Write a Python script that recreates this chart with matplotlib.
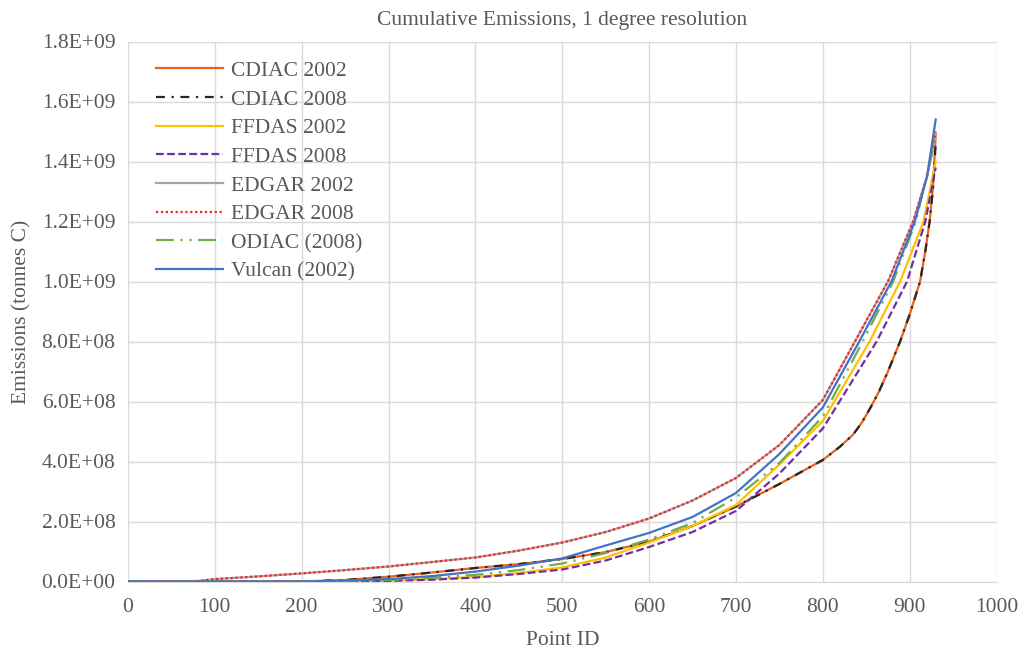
import numpy as np
import matplotlib.pyplot as plt
from matplotlib.ticker import FuncFormatter

# values, emissions in units of 1E8 tonnes C
x_cdiac = [0, 200, 250, 300, 350, 400, 450, 500, 550, 600, 650, 700, 750, 800, 820, 835, 845, 855, 865,
           875, 889, 900, 912, 918, 923, 927, 930]
cdiac02 = [0, 0, 0.05, 0.16, 0.3, 0.45, 0.58, 0.75, 0.98, 1.33, 1.85, 2.5, 3.25, 4.05, 4.5, 4.9, 5.3, 5.8, 6.35,
           7.0, 8.0, 8.9, 10.0, 11.0, 12.0, 13.2, 14.9]
cdiac08 = [0, 0, 0.05, 0.16, 0.3, 0.45, 0.58, 0.75, 0.98, 1.33, 1.85, 2.5, 3.25, 4.05, 4.5, 4.9, 5.3, 5.8, 6.35,
           7.0, 8.0, 8.9, 10.0, 11.0, 12.0, 13.1, 14.6]

x_ffdas02 = [0, 200, 250, 300, 350, 400, 450, 500, 550, 600, 650, 700, 750, 800, 854, 889, 916, 930]
ffdas02 = [0, 0, 0.01, 0.03, 0.08, 0.15, 0.28, 0.47, 0.8, 1.3, 1.85, 2.55, 3.9, 5.35, 8.0, 10.0, 12.0, 14.0]

x_ffdas08 = [0, 200, 250, 300, 350, 400, 450, 500, 550, 600, 650, 700, 750, 800, 862, 897, 918, 930]
ffdas08 = [0, 0, 0.01, 0.02, 0.06, 0.13, 0.25, 0.4, 0.7, 1.15, 1.65, 2.35, 3.6, 5.1, 8.0, 10.0, 12.0, 13.8]

x_edgar = [0, 75, 100, 150, 200, 250, 300, 350, 400, 450, 500, 550, 600, 650, 700, 750, 800, 837, 875, 904, 920, 930]
edgar02 = [0, 0, 0.08, 0.17, 0.27, 0.38, 0.5, 0.65, 0.8, 1.03, 1.3, 1.65, 2.1, 2.7, 3.45, 4.55, 6.05, 8.0, 10.0, 12.0, 13.5, 14.9]
edgar08 = [0, 0, 0.08, 0.17, 0.27, 0.38, 0.5, 0.65, 0.8, 1.03, 1.3, 1.65, 2.1, 2.7, 3.45, 4.55, 6.05, 8.0, 10.0, 12.0, 13.5, 15.0]

x_odiac = [0, 200, 250, 300, 350, 400, 450, 500, 550, 600, 650, 700, 750, 800, 846, 881, 907, 930]
odiac08 = [0, 0, 0.02, 0.05, 0.12, 0.22, 0.38, 0.6, 0.95, 1.4, 1.95, 2.8, 3.95, 5.5, 8.0, 10.0, 12.0, 14.8]

x_vulcan = [0, 200, 250, 300, 350, 400, 450, 500, 550, 600, 650, 700, 750, 800, 842, 879, 906, 920, 930]
vulcan02 = [0, 0, 0.03, 0.08, 0.18, 0.33, 0.53, 0.77, 1.2, 1.62, 2.15, 2.95, 4.25, 5.8, 8.0, 10.0, 12.0, 13.5, 15.4]

series = [
    ("CDIAC 2002", x_cdiac, cdiac02, "#F0601E", "-", None),
    ("CDIAC 2008", x_cdiac, cdiac08, "#262626", "--", (4, 3, 1, 3)),
    ("FFDAS 2002", x_ffdas02, ffdas02, "#FFC000", "-", None),
    ("FFDAS 2008", x_ffdas08, ffdas08, "#7030A0", "--", (3.5, 1.5)),
    ("EDGAR 2002", x_edgar, edgar02, "#A5A5A5", "-", None),
    ("EDGAR 2008", x_edgar, edgar08, "#FF2020", ":", (1, 1.2)),
    ("ODIAC (2008)", x_odiac, odiac08, "#70AD47", "--", (8, 3, 1, 3, 1, 3)),
    ("Vulcan (2002)", x_vulcan, vulcan02, "#4472C4", "-", None),
]

plt.rcParams['font.family'] = ['Liberation Serif', 'DejaVu Serif']
txt = "#595959"
fs = 15.5

fig = plt.figure(figsize=(10.27, 6.56), dpi=100)
ax = fig.add_axes([128/1027, 1 - 581.5/656, (996.5-128)/1027, (581.5-41.5)/656])

for name, xs, ys, col, ls, dash in series:
    line, = ax.plot(xs, np.array(ys) * 1e8, color=col, lw=1.6, ls=ls, label=name)
    if dash is not None:
        line.set_dashes(dash)

ax.set_xlim(0, 1000)
ax.set_ylim(0, 1.8e9)
ax.set_xticks(np.arange(0, 1001, 100))
ax.set_yticks(np.arange(0, 1.81e9, 2e8))
ax.yaxis.set_major_formatter(FuncFormatter(lambda v, p: f"{v:.1E}"))
ax.grid(True, color="#D9D9D9", lw=1)
ax.set_axisbelow(True)
for s in ["top", "right", "left"]:
    ax.spines[s].set_visible(False)
ax.spines["bottom"].set_color("#D9D9D9")
ax.tick_params(length=0, labelsize=fs, colors=txt)
ax.tick_params(axis="x", pad=12)
ax.tick_params(axis="y", pad=9)

ax.set_title("Cumulative Emissions, 1 degree resolution", fontsize=fs, color=txt, pad=12)
ax.set_xlabel("Point ID", fontsize=fs, color=txt, labelpad=10)
ax.set_ylabel("Emissions (tonnes C)", fontsize=fs, color=txt, labelpad=7)

leg = ax.legend(loc="upper left", frameon=False, fontsize=fs, handlelength=3.1,
                labelspacing=0.4, bbox_to_anchor=(0.01, 1.0), handletextpad=0.37)
for t in leg.get_texts():
    t.set_color(txt)

fig.savefig("out.png", dpi=100)
